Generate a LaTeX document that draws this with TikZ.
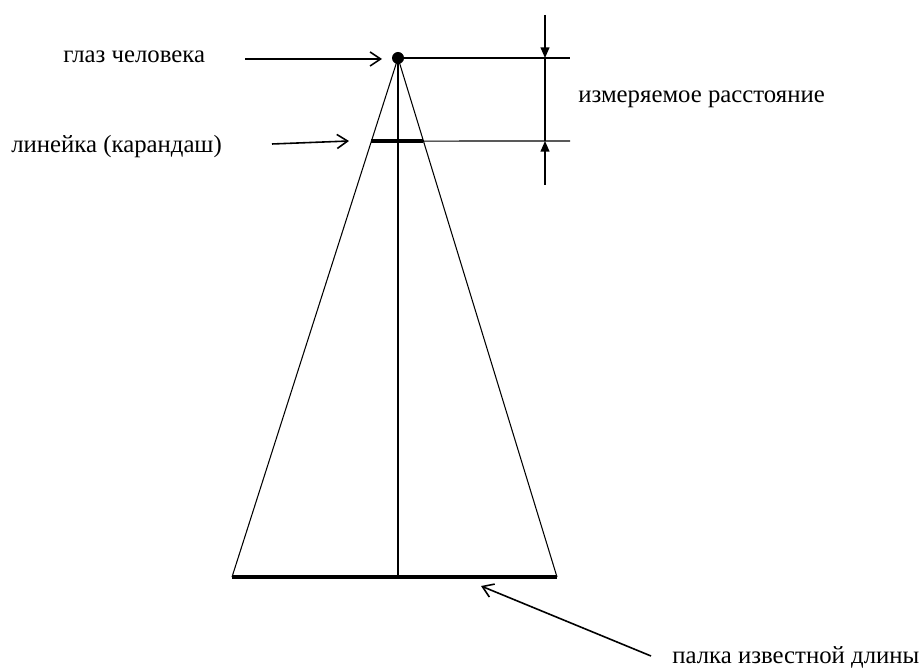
\documentclass[tikz,border=0pt]{standalone}
\usepackage{fontspec}
\setmainfont{Liberation Serif}
\usetikzlibrary{positioning, arrows.meta, calc}

\begin{document}
\begin{tikzpicture}[
  x=0.02cm, y=-0.02cm,
  font=\fontsize{14.1}{16}\selectfont,
  ray/.style={line width=.6pt},
  rod/.style={line width=1.8pt},
  eyedot/.style={circle, fill=black, inner sep=0pt, minimum size=0.24cm},
  lbl/.style={inner sep=0pt, anchor=west},
  ptr/.style={-{Straight Barb[length=6pt, width=8pt]}, line width=.9pt},
  dim/.style={-{Triangle[length=6pt, width=5pt]}, line width=.8pt},
]
\useasboundingbox (0,0) rectangle (922,668);

% eye, stick and ruler
\node[eyedot] (eye) at (398,58) {};
\coordinate (bl) at (232,577);
\coordinate (br) at (557,577);
\coordinate (bm) at (398,577);
\coordinate (rl) at ($(eye.center)!0.16!(bl)$);
\coordinate (rr) at ($(eye.center)!0.16!(br)$);

\draw[ray] (bl) -- (eye.center) -- (br);
\draw[ray] (eye.center) -- (bm);
\draw[rod] (bl) -- (br);
\draw[rod] (rl) -- (rr);

% dimension
\coordinate (dtop) at (570,58);
\coordinate (dbot) at (570,141);
\coordinate (d1) at (545,15);
\coordinate (d2) at (545,58);
\coordinate (d3) at (545,141);
\coordinate (d4) at (545,185);
\draw[ray] (eye.center) -- (dtop);
\draw[ray] (rr) -- (dbot);
\draw[dim] (d1) -- (d2);
\draw[ray, line width=.8pt] (d2) -- (d3);
\draw[dim] (d4) -- (d3);

% labels
\node[lbl] (eyelbl)   at (63,57)   {глаз человека};
\node[lbl] (rulerlbl) at (11,147)  {линейка (карандаш)};
\node[lbl] (distlbl)  at (578,99)  {измеряемое расстояние};
\node[lbl] (sticklbl) at (672,657) {палка известной длины};

\coordinate (a1) at (245,59);
\coordinate (a2) at (382,59);
\coordinate (b1) at (272,144);
\coordinate (b2) at (349,141);
\coordinate (c1) at (651,656);
\coordinate (c2) at (481,586);
\draw[ptr] (a1) -- (a2);
\draw[ptr] (b1) -- (b2);
\draw[ptr] (c1) -- (c2);
\end{tikzpicture}
\end{document}
